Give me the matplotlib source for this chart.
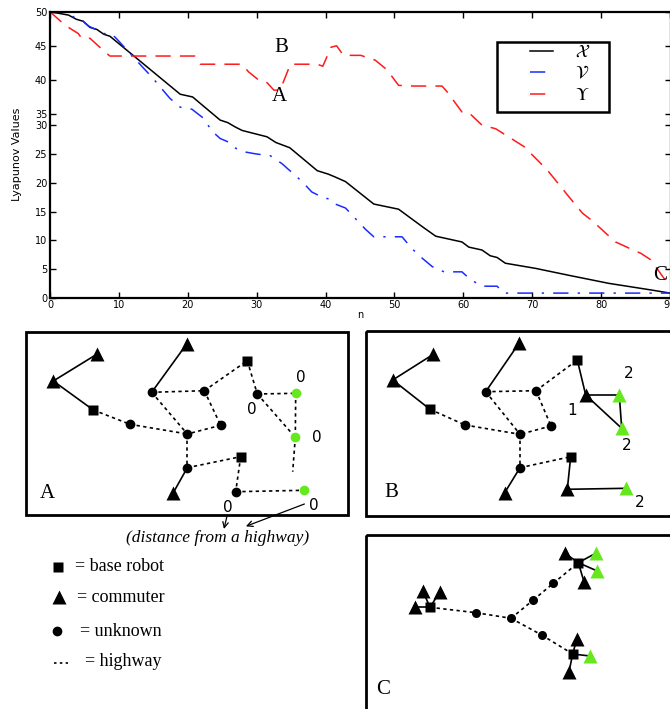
import numpy as np
import matplotlib.pyplot as plt
from matplotlib.patches import Rectangle

plt.rcParams['mathtext.fontset'] = 'stix'

# ---- Lyapunov curves (top panel) ----
n_x = [0, 2.7, 3.8, 4.8, 5.8, 6.8, 7.8, 8.7, 18.9, 20.7, 24.7, 25.8, 26.9, 27.9, 31.5,
       32.8, 34.8, 38.8, 40.4, 41.4, 42.9, 47.0, 50.6, 54.0, 54.7, 56.0, 59.8, 60.8,
       62.7, 63.9, 64.9, 66.1, 70.5, 75.3, 81.1, 87.5, 90]
v_x = [50, 49.5, 48.9, 48.6, 47.7, 47.4, 46.7, 46.4, 37.9, 37.5, 32.3, 31.2, 29.7, 29.1, 28.0,
       27.0, 26.1, 22.1, 21.5, 21.0, 20.2, 16.3, 15.4, 12.4, 11.8, 10.7, 9.7, 8.8,
       8.3, 7.3, 7.0, 6.0, 5.1, 3.9, 2.5, 1.3, 0.8]

n_v = [0, 2.6, 3.8, 4.6, 5.6, 7.8, 9.0, 9.7, 13.6, 14.8, 17.4, 18.9, 20.6, 22.3, 23.5, 24.7,
       25.7, 26.6, 28.1, 30.0, 32.0, 33.7, 36.6, 38.0, 39.5, 40.7, 41.4, 42.9, 45.8, 47.0,
       51.1, 52.5, 53.8, 55.5, 57.2, 59.8, 61.0, 62.7, 64.9, 65.9, 90]
v_v = [50, 50, 48.9, 48.8, 47.9, 46.8, 46.7, 46.0, 41.7, 40.4, 37.3, 36.0, 35.7, 33.1, 29.0, 27.7,
       27.2, 26.2, 25.4, 25.0, 24.7, 23.3, 20.2, 18.4, 17.5, 17.1, 16.3, 15.6, 11.9, 10.6,
       10.6, 8.6, 7.1, 5.4, 4.5, 4.5, 3.2, 2.0, 2.0, 0.8, 0.8]

n_u = [0, 2.2, 4.1, 4.6, 5.8, 8.2, 8.7, 21.0, 21.8, 27.9, 28.8, 30.5, 31.5, 32.5, 33.4, 34.9,
       38.8, 39.6, 40.8, 41.6, 42.6, 45.1, 47.2, 48.9, 50.6, 52.8, 56.9, 57.6, 59.8, 60.8,
       62.7, 64.7, 68.8, 72.2, 75.3, 77.3, 78.7, 80.7, 82.1, 84.1, 85.8, 87.2, 90]
v_u = [50, 48.0, 46.8, 46.1, 46.1, 43.9, 43.5, 43.5, 42.3, 42.3, 41.2, 39.8, 39.6, 38.5, 38.5, 42.3,
       42.3, 42.0, 44.8, 45.0, 43.6, 43.6, 42.9, 41.5, 39.2, 39.1, 39.1, 38.3, 35.3, 35.2,
       30.1, 29.4, 26.3, 22.2, 17.6, 14.7, 13.4, 11.2, 9.7, 8.6, 7.7, 6.6, 1.9]

y_ticks = [0, 5, 10, 15, 20, 25, 30, 35, 40, 45, 50]
x_ticks = [0, 10, 20, 30, 40, 50, 60, 70, 80, 90]

# piecewise y scale (the source figure squeezes 30..35)
y_knots = [-50, 0, 30, 35, 50, 100]
y_pix = [-287.4, 0, 172.4, 183.7, 286, 627]


def fwd(v):
    return np.interp(v, y_knots, y_pix)


def inv(p):
    return np.interp(p, y_pix, y_knots)


# ---- network panels (pixel coordinates of the drawing) ----
a_tri = [(96.7, 354.3), (53.3, 381), (186.7, 344), (173.3, 492.7)]
a_sq = [(93.3, 410), (247.3, 360.7), (240.7, 456.7)]
a_dot = [(130, 424.3), (151.7, 392.3), (204.3, 390.7), (220.7, 425.3), (187.3, 434),
         (187.3, 467.7), (257.3, 394), (235.7, 491.7)]
a_green = [(295.7, 393.3), (295.3, 437.3), (304, 490.3)]
a_solid = [((96.7, 354.3), (53.3, 381)), ((53.3, 381), (93.3, 410)),
           ((151.7, 392.3), (186.7, 344)), ((187.3, 467.7), (173.3, 492.7))]
a_hwy = [((93.3, 410), (130, 424.3)), ((130, 424.3), (187.3, 434)),
         ((151.7, 392.3), (204.3, 390.7)), ((151.7, 392.3), (187.3, 434)),
         ((204.3, 390.7), (220.7, 425.3)), ((220.7, 425.3), (187.3, 434)),
         ((204.3, 390.7), (247.3, 360.7)), ((247.3, 360.7), (257.3, 394)),
         ((257.3, 394), (295.7, 393.3)), ((257.3, 394), (295.3, 437.3)),
         ((295.7, 393.3), (295.3, 437.3)), ((295.3, 437.3), (292.7, 471.7)),
         ((187.3, 434), (187.3, 467.7)), ((187.3, 467.7), (240.7, 456.7)),
         ((240.7, 456.7), (235.7, 491.7)), ((235.7, 491.7), (304, 490.3))]
a_nums = [(301, 377.3, '0'), (252.3, 409.3, '0'), (317.3, 437.3, '0'),
          (227.7, 507.3, '0'), (314.3, 505, '0')]

b_tri = [(433.3, 354.3), (392.7, 380), (519, 343.3), (504.7, 492.7), (585.7, 395), (567.3, 489.3)]
b_green = [(619.3, 395), (621.7, 428.3), (625.7, 488.3)]
b_sq = [(430, 409.3), (577.3, 360), (570.7, 456.7)]
b_dot = [(465, 425), (485.7, 391.7), (536, 390.7), (551, 426), (520, 434.3), (520, 467.7)]
b_solid = [((433.3, 354.3), (392.7, 380)), ((392.7, 380), (430, 409.3)),
           ((485.7, 391.7), (519, 343.3)), ((520, 467.7), (504.7, 492.7)),
           ((577.3, 360), (585.7, 395)), ((585.7, 395), (619.3, 395)),
           ((619.3, 395), (621.7, 428.3)), ((585.7, 395), (621.7, 428.3)),
           ((570.7, 456.7), (567.3, 489.3)), ((567.3, 489.3), (625.7, 488.3))]
b_hwy = [((430, 409.3), (465, 425)), ((465, 425), (520, 434.3)),
         ((485.7, 391.7), (536, 390.7)), ((485.7, 391.7), (520, 434.3)),
         ((536, 390.7), (551, 426)), ((551, 426), (520, 434.3)),
         ((536, 390.7), (577.3, 360)), ((520, 434.3), (520, 467.7)),
         ((520, 467.7), (570.7, 456.7))]
b_nums = [(628.3, 373.3, '2'), (572.3, 410.7, '1'), (626.7, 445, '2'), (639.3, 502.7, '2')]

c_sq = [(430, 607.3), (578.3, 562.7), (572.7, 654)]
c_tri = [(422.7, 590.7), (440, 591.7), (415, 607.3), (565, 553.3), (584, 581.7),
         (576.7, 639.3), (569, 671.7)]
c_green = [(595.7, 553.3), (597.3, 571), (590, 656)]
c_dot = [(476, 612.7), (511, 618.3), (533.3, 600), (553.3, 583.3), (541.7, 635)]
c_solid = [((430, 607.3), (422.7, 590.7)), ((430, 607.3), (440, 591.7)),
           ((430, 607.3), (415, 607.3)), ((578.3, 562.7), (565, 553.3)),
           ((578.3, 562.7), (584, 581.7)), ((578.3, 562.7), (595.7, 553.3)),
           ((578.3, 562.7), (597.3, 571)), ((572.7, 654), (576.7, 639.3)),
           ((572.7, 654), (569, 671.7)), ((572.7, 654), (590, 656))]
c_hwy = [((430, 607.3), (476, 612.7)), ((476, 612.7), (511, 618.3)),
         ((511, 618.3), (533.3, 600)), ((533.3, 600), (553.3, 583.3)),
         ((553.3, 583.3), (578.3, 562.7)), ((511, 618.3), (541.7, 635)),
         ((541.7, 635), (572.7, 654))]

GREEN = '#66e81e'
serif = 'Liberation Serif'

fig = plt.figure(figsize=(6.7, 7.09), dpi=100)

# ---------- top chart ----------
ax = fig.add_axes([50 / 670, (709 - 297.7) / 709, 621 / 670, 286 / 709])
ax.set_yscale('function', functions=(fwd, inv))
ax.plot(n_x, v_x, color='black', lw=1.1, label=r'$\mathcal{X}$')
ax.plot(n_v, v_v, color='#1a2cff', lw=1.1, dashes=(10, 6, 1.5, 6), label=r'$\mathcal{V}$')
ax.plot(n_u, v_u, color='#ff1a1a', lw=1.1, dashes=(10, 6), label=r'$\Upsilon$')
ax.set_xlim(0, 90 * 621 / 620)
ax.set_ylim(0, 50)
ax.set_yticks(y_ticks)
ax.set_xticks(x_ticks)
ax.tick_params(direction='in', top=True, right=True, length=4, width=1,
               labelsize=7, pad=2)
for s in ax.spines.values():
    s.set_linewidth(1.6)
ax.set_ylabel('Lyapunov Values', fontsize=8, family='Liberation Sans Narrow', labelpad=9)
ax.set_xlabel('n', fontsize=7, labelpad=0)
ax.text(33.6, 44.8, 'B', fontsize=15, family=serif, ha='center', va='center')
ax.text(33.3, 37.5, 'A', fontsize=15, family=serif, ha='center', va='center')
ax.text(88.6, 3.9, 'C', fontsize=15, family=serif, ha='center', va='center')

# legend: content without frame, frame drawn as a separate box
leg = ax.legend(loc='upper left', bbox_to_anchor=((530 - 50) / 621, (297.7 - 43) / 286),
                fontsize=13, frameon=False, handlelength=1.3, handletextpad=1.2,
                borderpad=0, labelspacing=0.2, borderaxespad=0)
ax.add_patch(Rectangle(((497 - 50) / 621, (297.7 - 111.7) / 286), 112 / 621, 70 / 286,
                       transform=ax.transAxes, fill=False, ec='black', lw=1.8, zorder=5))

# ---------- network drawings ----------
ax2 = fig.add_axes([0, 0, 1, 1])
ax2.set_xlim(0, 670)
ax2.set_ylim(709, 0)
ax2.axis('off')

for (x0, y0, w, h) in [(26, 332, 322, 183), (366, 331, 320, 185), (366, 535, 320, 200)]:
    ax2.add_patch(Rectangle((x0, y0), w, h, fill=False, ec='black', lw=2))


def draw_net(solid, hwy, tri, sq, dot, green_pts, green_marker, ms_tri=10.5, ms_sq=7.5, ms_dot=7):
    for p, q in solid:
        ax2.plot([p[0], q[0]], [p[1], q[1]], color='black', lw=1.2, zorder=1)
    for p, q in hwy:
        ax2.plot([p[0], q[0]], [p[1], q[1]], color='black', lw=1.2, dashes=(2, 2), zorder=1)
    if tri:
        ax2.plot(*zip(*tri), '^', color='black', ms=ms_tri, mec='none', zorder=3)
    if sq:
        ax2.plot(*zip(*sq), 's', color='black', ms=ms_sq, mec='none', zorder=3)
    if dot:
        ax2.plot(*zip(*dot), 'o', color='black', ms=ms_dot, mec='none', zorder=3)
    if green_pts:
        ax2.plot(*zip(*green_pts), green_marker, color=GREEN, mec='none',
                 ms=ms_tri if green_marker == '^' else ms_dot, zorder=3)


draw_net(a_solid, a_hwy, a_tri, a_sq, a_dot, a_green, 'o')
draw_net(b_solid, b_hwy, b_tri, b_sq, b_dot, b_green, '^')
draw_net(c_solid, c_hwy, c_tri, c_sq, c_dot, c_green, '^', ms_tri=9.5, ms_sq=7, ms_dot=6.5)

for x, y, t in a_nums + b_nums:
    ax2.text(x, y, t, fontsize=11, ha='center', va='center')

ax2.text(47.7, 494, 'A', fontsize=15, family=serif, ha='center', va='center')
ax2.text(391.7, 492.7, 'B', fontsize=15, family=serif, ha='center', va='center')
ax2.text(383.3, 690, 'C', fontsize=15, family=serif, ha='center', va='center')

# arrows to the "(distance from a highway)" note
ax2.annotate('', xy=(223.3, 531.7), xytext=(227.5, 514),
             arrowprops=dict(arrowstyle='->', lw=0.9, color='black'))
ax2.annotate('', xy=(243.3, 527.3), xytext=(307, 503),
             arrowprops=dict(arrowstyle='->', lw=0.9, color='black'))
ax2.text(217.5, 538.5, '(distance from a highway)', fontsize=12.5, family=serif,
         style='italic', ha='center', va='center')

# key
ax2.plot(57.7, 566.7, 's', color='black', ms=7.5, mec='none')
ax2.plot(59, 597.3, '^', color='black', ms=10.5, mec='none')
ax2.plot(57.3, 630.7, 'o', color='black', ms=7, mec='none')
ax2.plot([54, 68], [663.3, 663.3], color='black', lw=1.2, dashes=(1.5, 2))
ax2.text(75, 566.7, '= base robot', fontsize=13, family=serif, va='center')
ax2.text(76.7, 597.3, '= commuter', fontsize=13, family=serif, va='center')
ax2.text(80, 632, '= unknown', fontsize=13, family=serif, va='center')
ax2.text(85, 661.5, '= highway', fontsize=13, family=serif, va='center')

plt.savefig('out.png', dpi=100)
